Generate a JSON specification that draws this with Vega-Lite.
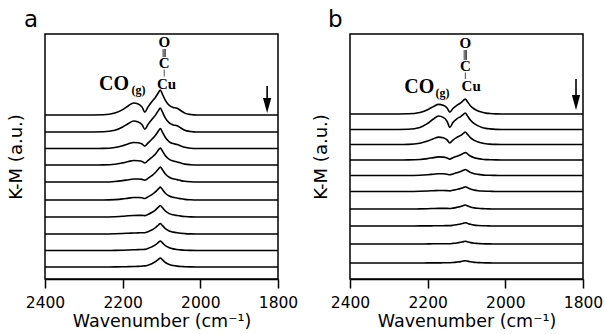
{
"$schema":"https://vega.github.io/schema/vega-lite/v6.json",
"background":"white",
"padding":{"left":6,"top":8,"right":0,"bottom":0},
"spacing":72,
"bounds":"flush",
"config":{"view":{"stroke":"black","strokeWidth":1.5},"axis":{"grid":false},"font":"DejaVu Sans"},
"datasets":{
"spec_a":[
{"wn":2400,"s1":164,"s2":147,"s3":130.5,"s4":114,"s5":97,"s6":79,"s7":62,"s8":45,"s9":28.5,"s10":12},
{"wn":2300,"s1":164,"s2":147,"s3":130.5,"s4":114,"s5":97,"s6":79,"s7":62,"s8":45,"s9":28.5,"s10":12},
{"wn":2250,"s1":164.2,"s2":147.2,"s3":130.6,"s4":114.1,"s5":97,"s6":79,"s7":62,"s8":45,"s9":28.5,"s10":12},
{"wn":2220,"s1":165.9,"s2":148.7,"s3":131.5,"s4":114.7,"s5":97.5,"s6":79.4,"s7":62.3,"s8":45.2,"s9":28.6,"s10":12.1},
{"wn":2200,"s1":169.4,"s2":152,"s3":133.2,"s4":116.1,"s5":98.4,"s6":80.1,"s7":62.7,"s8":45.5,"s9":28.8,"s10":12.2},
{"wn":2185,"s1":173.3,"s2":155.5,"s3":135.2,"s4":117.5,"s5":99.3,"s6":80.9,"s7":63.2,"s8":45.8,"s9":29,"s10":12.4},
{"wn":2172,"s1":176,"s2":158,"s3":136.5,"s4":118.5,"s5":100,"s6":81.5,"s7":63.5,"s8":46,"s9":29.2,"s10":12.5},
{"wn":2160,"s1":175,"s2":157.1,"s3":136.2,"s4":118.3,"s5":100,"s6":81.5,"s7":63.6,"s8":46.1,"s9":29.4,"s10":12.6},
{"wn":2150,"s1":171.9,"s2":154.3,"s3":135,"s4":117.5,"s5":99.6,"s6":81.2,"s7":63.6,"s8":46.3,"s9":29.5,"s10":12.9},
{"wn":2143,"s1":166.9,"s2":149.8,"s3":132.9,"s4":116,"s5":98.8,"s6":80.5,"s7":63.4,"s8":46.3,"s9":29.6,"s10":13.1},
{"wn":2135,"s1":171.9,"s2":154.4,"s3":135.9,"s4":118.4,"s5":100.6,"s6":82.1,"s7":64.6,"s8":47.3,"s9":30.5,"s10":13.8},
{"wn":2125,"s1":177.3,"s2":159.5,"s3":139.7,"s4":121.6,"s5":103.3,"s6":84.4,"s7":66.5,"s8":49,"s9":32.1,"s10":15.3},
{"wn":2115,"s1":182,"s2":164.1,"s3":143.9,"s4":125.3,"s5":106.7,"s6":87.3,"s7":69.2,"s8":51.5,"s9":34.3,"s10":17.5},
{"wn":2108,"s1":186.3,"s2":168.4,"s3":148,"s4":128.9,"s5":110,"s6":90.2,"s7":71.9,"s8":54,"s9":36.6,"s10":19.7},
{"wn":2103,"s1":189,"s2":171,"s3":150.5,"s4":131,"s5":112,"s6":91.9,"s7":73.5,"s8":55.5,"s9":38,"s10":21},
{"wn":2098,"s1":185.2,"s2":167.3,"s3":147.2,"s4":128.2,"s5":109.5,"s6":89.7,"s7":71.5,"s8":53.6,"s9":36.3,"s10":19.4},
{"wn":2090,"s1":178.6,"s2":160.9,"s3":141.5,"s4":123.2,"s5":105,"s6":85.8,"s7":68,"s8":50.4,"s9":33.3,"s10":16.5},
{"wn":2080,"s1":173.6,"s2":156.1,"s3":137.2,"s4":119.6,"s5":101.7,"s6":83,"s7":65.4,"s8":48,"s9":31.2,"s10":14.5},
{"wn":2070,"s1":171.6,"s2":154.1,"s3":135.4,"s4":118,"s5":100.2,"s6":81.7,"s7":64.2,"s8":46.9,"s9":30.1,"s10":13.5},
{"wn":2060,"s1":170.8,"s2":153.3,"s3":134.5,"s4":117.1,"s5":99.4,"s6":81,"s7":63.5,"s8":46.2,"s9":29.5,"s10":12.9},
{"wn":2050,"s1":168.3,"s2":151,"s3":133,"s4":115.9,"s5":98.4,"s6":80.2,"s7":62.9,"s8":45.7,"s9":29.1,"s10":12.5},
{"wn":2040,"s1":165.9,"s2":148.8,"s3":131.7,"s4":114.9,"s5":97.7,"s6":79.6,"s7":62.5,"s8":45.4,"s9":28.8,"s10":12.3},
{"wn":2025,"s1":164.5,"s2":147.5,"s3":130.8,"s4":114.3,"s5":97.2,"s6":79.2,"s7":62.1,"s8":45.1,"s9":28.6,"s10":12.1},
{"wn":2010,"s1":164,"s2":147,"s3":130.5,"s4":114,"s5":97,"s6":79,"s7":62,"s8":45,"s9":28.5,"s10":12},
{"wn":1800,"s1":164,"s2":147,"s3":130.5,"s4":114,"s5":97,"s6":79,"s7":62,"s8":45,"s9":28.5,"s10":12}
],
"spec_b":[
{"wn":2400,"s1":165,"s2":149.5,"s3":134.5,"s4":119,"s5":103.5,"s6":87.5,"s7":70,"s8":53,"s9":35,"s10":16},
{"wn":2300,"s1":165,"s2":149.5,"s3":134.5,"s4":119,"s5":103.5,"s6":87.5,"s7":70,"s8":53,"s9":35,"s10":16},
{"wn":2250,"s1":165.2,"s2":149.8,"s3":134.6,"s4":119.1,"s5":103.5,"s6":87.5,"s7":70,"s8":53,"s9":35,"s10":16},
{"wn":2220,"s1":166.5,"s2":151.6,"s3":135.7,"s4":119.5,"s5":103.8,"s6":87.7,"s7":70.1,"s8":53.1,"s9":35,"s10":16},
{"wn":2200,"s1":169.3,"s2":155.6,"s3":137.9,"s4":120.4,"s5":104.3,"s6":88,"s7":70.3,"s8":53.1,"s9":35.1,"s10":16.1},
{"wn":2185,"s1":172.4,"s2":160,"s3":140.3,"s4":121.4,"s5":104.8,"s6":88.3,"s7":70.5,"s8":53.2,"s9":35.2,"s10":16.1},
{"wn":2172,"s1":174.6,"s2":163,"s3":141.9,"s4":122.1,"s5":105.2,"s6":88.5,"s7":70.6,"s8":53.3,"s9":35.2,"s10":16.1},
{"wn":2160,"s1":173.7,"s2":161.6,"s3":141.3,"s4":121.9,"s5":105.2,"s6":88.5,"s7":70.6,"s8":53.3,"s9":35.3,"s10":16.2},
{"wn":2150,"s1":171,"s2":157.7,"s3":139.2,"s4":121.1,"s5":104.8,"s6":88.4,"s7":70.6,"s8":53.4,"s9":35.3,"s10":16.2},
{"wn":2143,"s1":166.9,"s2":151.6,"s3":136,"s4":119.9,"s5":104.2,"s6":88.1,"s7":70.5,"s8":53.4,"s9":35.3,"s10":16.3},
{"wn":2135,"s1":170.5,"s2":156.4,"s3":138.9,"s4":121.3,"s5":105.1,"s6":88.7,"s7":70.9,"s8":53.7,"s9":35.6,"s10":16.5},
{"wn":2125,"s1":173.7,"s2":160.2,"s3":141.6,"s4":122.7,"s5":106.2,"s6":89.5,"s7":71.6,"s8":54.3,"s9":36,"s10":16.9},
{"wn":2115,"s1":176.1,"s2":162.4,"s3":143.6,"s4":124.2,"s5":107.5,"s6":90.5,"s7":72.5,"s8":55,"s9":36.7,"s10":17.4},
{"wn":2108,"s1":178.5,"s2":164.7,"s3":145.7,"s4":125.6,"s5":108.7,"s6":91.6,"s7":73.4,"s8":55.8,"s9":37.4,"s10":18},
{"wn":2103,"s1":180,"s2":166,"s3":147,"s4":126.5,"s5":109.5,"s6":92.2,"s7":74,"s8":56.3,"s9":37.8,"s10":18.3},
{"wn":2098,"s1":177.5,"s2":163.4,"s3":144.9,"s4":125.3,"s5":108.5,"s6":91.4,"s7":73.3,"s8":55.7,"s9":37.3,"s10":17.9},
{"wn":2090,"s1":173.3,"s2":158.9,"s3":141.3,"s4":123,"s5":106.6,"s6":89.9,"s7":72,"s8":54.7,"s9":36.4,"s10":17.2},
{"wn":2080,"s1":170,"s2":155.3,"s3":138.6,"s4":121.3,"s5":105.3,"s6":88.9,"s7":71.1,"s8":53.9,"s9":35.8,"s10":16.6},
{"wn":2070,"s1":168,"s2":153.1,"s3":137,"s4":120.4,"s5":104.6,"s6":88.3,"s7":70.7,"s8":53.5,"s9":35.5,"s10":16.4},
{"wn":2060,"s1":166.8,"s2":151.6,"s3":136,"s4":119.8,"s5":104.1,"s6":88,"s7":70.4,"s8":53.3,"s9":35.2,"s10":16.2},
{"wn":2050,"s1":165.9,"s2":150.6,"s3":135.3,"s4":119.4,"s5":103.8,"s6":87.8,"s7":70.2,"s8":53.2,"s9":35.1,"s10":16.1},
{"wn":2040,"s1":165.5,"s2":150.1,"s3":134.9,"s4":119.3,"s5":103.7,"s6":87.7,"s7":70.1,"s8":53.1,"s9":35.1,"s10":16.1},
{"wn":2025,"s1":165.1,"s2":149.6,"s3":134.6,"s4":119.1,"s5":103.6,"s6":87.5,"s7":70,"s8":53,"s9":35,"s10":16},
{"wn":2010,"s1":165,"s2":149.5,"s3":134.5,"s4":119,"s5":103.5,"s6":87.5,"s7":70,"s8":53,"s9":35,"s10":16},
{"wn":1800,"s1":165,"s2":149.5,"s3":134.5,"s4":119,"s5":103.5,"s6":87.5,"s7":70,"s8":53,"s9":35,"s10":16}
]
},
"hconcat":[
{
"width":233,"height":245,
"title":{"text":"a","anchor":"start","frame":"group","dx":-21,"offset":-16,"fontSize":23,"font":"DejaVu Sans","fontWeight":"normal","baseline":"alphabetic","color":"black"},
"layer":[
{"data":{"name":"spec_a"},"transform":[{"fold":["s1","s2","s3","s4","s5","s6","s7","s8","s9","s10"],"as":["spectrum","km"]}],
"mark":{"type":"line","color":"black","strokeWidth":1.6,"interpolate":"monotone"},
"encoding":{
"x":{"field":"wn","type":"quantitative","scale":{"domain":[2400,1800]},"axis":{"title":"Wavenumber (cm⁻¹)","values":[2400,2300,2200,2100,2000,1900,1800],"labelExpr":"datum.value % 200 === 0 ? datum.label : ''","format":"d","tickSize":{"condition":{"test":"datum.value % 200 === 0","value":9},"value":6},"tickColor":"black","tickWidth":1.5,"domainColor":"black","domainWidth":1.5,"labelFont":"DejaVu Sans","labelFontSize":15.5,"labelColor":"black","labelPadding":7,"labelFlush":false,"titleFont":"DejaVu Sans","titleFontSize":17.5,"titleFontWeight":"normal","titleColor":"black","titlePadding":2}},
"y":{"field":"km","type":"quantitative","scale":{"domain":[0,245],"nice":false},"axis":{"title":"K-M (a.u.)","labels":false,"ticks":false,"domain":false,"titleFont":"DejaVu Sans","titleFontSize":18,"titleFontWeight":"normal","titleColor":"black","titlePadding":20}},
"detail":{"field":"spectrum","type":"nominal"}}},
{"data":{"values":[{"wn":2261,"km":189,"t":"CO"}]},"mark":{"type":"text","align":"left","baseline":"alphabetic","font":"Liberation Serif","fontWeight":"bold","fontSize":20,"color":"black"},"encoding":{"x":{"field":"wn","type":"quantitative"},"y":{"field":"km","type":"quantitative"},"text":{"field":"t"}}},
{"data":{"values":[{"wn":2177,"km":185,"t":"(g)"}]},"mark":{"type":"text","align":"left","baseline":"alphabetic","font":"Liberation Serif","fontWeight":"bold","fontSize":12,"color":"black"},"encoding":{"x":{"field":"wn","type":"quantitative"},"y":{"field":"km","type":"quantitative"},"text":{"field":"t"}}},
{"data":{"values":[{"wn":2093,"km":232,"t":"O"},{"wn":2093,"km":211,"t":"C"},{"wn":2087,"km":190,"t":"Cu"}]},"mark":{"type":"text","align":"center","baseline":"alphabetic","font":"Liberation Serif","fontWeight":"bold","fontSize":15,"color":"black"},"encoding":{"x":{"field":"wn","type":"quantitative"},"y":{"field":"km","type":"quantitative"},"text":{"field":"t"}}},
{"data":{"values":[{"wn":2096,"y1":230,"y2":222},{"wn":2093,"y1":230,"y2":222},{"wn":2090,"y1":230,"y2":222},{"wn":2093,"y1":209.5,"y2":202.5}]},"mark":{"type":"rule","color":"black","strokeWidth":0.7},"encoding":{"x":{"field":"wn","type":"quantitative"},"y":{"field":"y1","type":"quantitative"},"y2":{"field":"y2"}}},
{"data":{"values":[{"wn":1828,"y1":193,"y2":179}]},"mark":{"type":"rule","color":"black","strokeWidth":1.6},"encoding":{"x":{"field":"wn","type":"quantitative"},"y":{"field":"y1","type":"quantitative"},"y2":{"field":"y2"}}},
{"data":{"values":[{"wn":1828,"km":173.5}]},"mark":{"type":"point","filled":true,"color":"black","opacity":1,"size":225,"shape":"M-0.55,-1L0.55,-1L0,1Z"},"encoding":{"x":{"field":"wn","type":"quantitative"},"y":{"field":"km","type":"quantitative"}}}
]
},
{
"width":233,"height":245,
"title":{"text":"b","anchor":"start","frame":"group","dx":-22,"offset":-16,"fontSize":23,"font":"DejaVu Sans","fontWeight":"normal","baseline":"alphabetic","color":"black"},
"layer":[
{"data":{"name":"spec_b"},"transform":[{"fold":["s1","s2","s3","s4","s5","s6","s7","s8","s9","s10"],"as":["spectrum","km"]}],
"mark":{"type":"line","color":"black","strokeWidth":1.6,"interpolate":"monotone"},
"encoding":{
"x":{"field":"wn","type":"quantitative","scale":{"domain":[2400,1800]},"axis":{"title":"Wavenumber (cm⁻¹)","values":[2400,2300,2200,2100,2000,1900,1800],"labelExpr":"datum.value % 200 === 0 ? datum.label : ''","format":"d","tickSize":{"condition":{"test":"datum.value % 200 === 0","value":9},"value":6},"tickColor":"black","tickWidth":1.5,"domainColor":"black","domainWidth":1.5,"labelFont":"DejaVu Sans","labelFontSize":15.5,"labelColor":"black","labelPadding":7,"labelFlush":false,"titleFont":"DejaVu Sans","titleFontSize":17.5,"titleFontWeight":"normal","titleColor":"black","titlePadding":2}},
"y":{"field":"km","type":"quantitative","scale":{"domain":[0,245],"nice":false},"axis":{"title":"K-M (a.u.)","labels":false,"ticks":false,"domain":false,"titleFont":"DejaVu Sans","titleFontSize":18,"titleFontWeight":"normal","titleColor":"black","titlePadding":20}},
"detail":{"field":"spectrum","type":"nominal"}}},
{"data":{"values":[{"wn":2260,"km":186,"t":"CO"}]},"mark":{"type":"text","align":"left","baseline":"alphabetic","font":"Liberation Serif","fontWeight":"bold","fontSize":20,"color":"black"},"encoding":{"x":{"field":"wn","type":"quantitative"},"y":{"field":"km","type":"quantitative"},"text":{"field":"t"}}},
{"data":{"values":[{"wn":2180,"km":182,"t":"(g)"}]},"mark":{"type":"text","align":"left","baseline":"alphabetic","font":"Liberation Serif","fontWeight":"bold","fontSize":12,"color":"black"},"encoding":{"x":{"field":"wn","type":"quantitative"},"y":{"field":"km","type":"quantitative"},"text":{"field":"t"}}},
{"data":{"values":[{"wn":2103,"km":231,"t":"O"},{"wn":2103,"km":208,"t":"C"},{"wn":2088,"km":188,"t":"Cu"}]},"mark":{"type":"text","align":"center","baseline":"alphabetic","font":"Liberation Serif","fontWeight":"bold","fontSize":15,"color":"black"},"encoding":{"x":{"field":"wn","type":"quantitative"},"y":{"field":"km","type":"quantitative"},"text":{"field":"t"}}},
{"data":{"values":[{"wn":2106,"y1":229,"y2":219},{"wn":2103,"y1":229,"y2":219},{"wn":2100,"y1":229,"y2":219},{"wn":2103,"y1":206.5,"y2":200}]},"mark":{"type":"rule","color":"black","strokeWidth":0.7},"encoding":{"x":{"field":"wn","type":"quantitative"},"y":{"field":"y1","type":"quantitative"},"y2":{"field":"y2"}}},
{"data":{"values":[{"wn":1818,"y1":200,"y2":182}]},"mark":{"type":"rule","color":"black","strokeWidth":1.6},"encoding":{"x":{"field":"wn","type":"quantitative"},"y":{"field":"y1","type":"quantitative"},"y2":{"field":"y2"}}},
{"data":{"values":[{"wn":1818,"km":176.5}]},"mark":{"type":"point","filled":true,"color":"black","opacity":1,"size":225,"shape":"M-0.55,-1L0.55,-1L0,1Z"},"encoding":{"x":{"field":"wn","type":"quantitative"},"y":{"field":"km","type":"quantitative"}}}
]
}
]
}
